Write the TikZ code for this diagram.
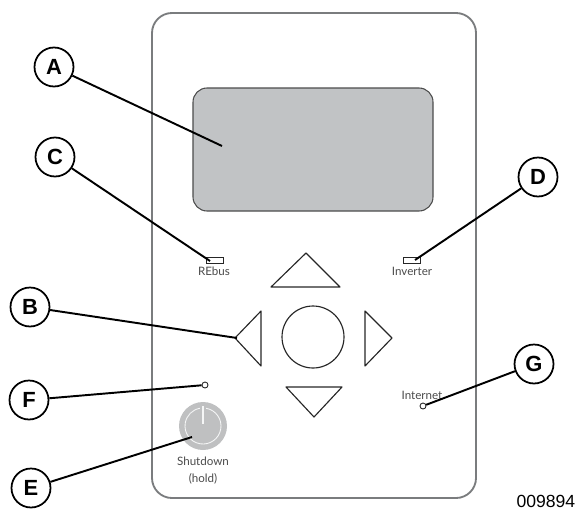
\documentclass[tikz,border=0pt]{standalone}
\usepackage{fontspec}
\setmainfont{Liberation Sans}
\newfontfamily\panelfont{Lato}
\usetikzlibrary{positioning}
\definecolor{panelgray}{HTML}{7A7C7E}
\definecolor{screengray}{HTML}{C1C3C5}
\definecolor{knobgray}{HTML}{BFC0C1}
\definecolor{panelink}{HTML}{4A4A4A}
\begin{document}
\begin{tikzpicture}[x=0.02cm, y=-0.02cm, semithick]
\tikzstyle{callout}=[circle,fill=white,draw=black,line width=1pt,minimum size=0.78cm,inner sep=0pt,font=\fontsize{12.5}{14}\selectfont\bfseries]
\tikzstyle{leader}=[draw=black,line width=1.1pt]
\tikzstyle{outline}=[draw=black!85,line width=0.65pt,line join=round]
\tikzstyle{led}=[draw=black!85,fill=white,line width=0.5pt]
\tikzstyle{paneltext}=[inner sep=0pt,text=panelink,font=\panelfont\fontsize{6.6}{7.5}\selectfont]
\useasboundingbox (0,0) rectangle (580,510);
% panel and screen
\draw[draw=panelgray,line width=1.05pt,rounded corners=0.4cm] (152,13) rectangle (476,498);
\draw[draw=black!70,fill=screengray,line width=0.6pt,rounded corners=0.28cm] (193,88) rectangle (433,211);
% keypad
\draw[outline] (306,253) -- (340,287) -- (271,287) -- cycle;
\draw[outline] (235,338) -- (261,311) -- (261,366) -- cycle;
\draw[outline] (392,338) -- (365,311) -- (365,366) -- cycle;
\draw[outline] (314,417) -- (342,387) -- (286,387) -- cycle;
\node[circle,outline,minimum size=1.24cm,inner sep=0pt] (okkey) at (313,337) {};
% lamps
\node[led,minimum width=0.34cm,minimum height=0.13cm,inner sep=0pt] (rebus) at (214.5,260.5) {};
\node[paneltext] (rebustext) at (214,271) {REbus};
\node[led,minimum width=0.34cm,minimum height=0.13cm,inner sep=0pt] (inverter) at (412,260.5) {};
\node[paneltext] (invertertext) at (412,271) {Inverter};
\node[led,circle,minimum size=0.12cm,inner sep=0pt] (power) at (205,385) {};
\node[led,circle,minimum size=0.12cm,inner sep=0pt] (internet) at (423,406) {};
\node[paneltext] (internettext) at (422,395) {Internet};
% shutdown button
\node[circle,fill=knobgray,minimum size=0.96cm,inner sep=0pt] (knob) at (203,426) {};
\draw[white!85!knobgray,line width=0.5pt] (knob.center) ++(-80:18) arc (-80:260:18);
\draw[white!85!knobgray,line width=0.8pt] (203,406) -- (203,424);
\node[paneltext] (shutdown) at (203,461) {Shutdown};
\node[paneltext] (hold) [below=0.14cm of shutdown] {(hold)};
% callouts
\node[callout] (A) at (54,67) {A};
\node[callout] (C) at (55,157) {C};
\node[callout] (D) at (538,177) {D};
\node[callout] (B) at (30,307) {B};
\node[callout] (F) at (29,400) {F};
\node[callout] (G) at (534,364) {G};
\node[callout] (E) at (31,488) {E};
\coordinate (screenend) at (222,146);
\coordinate (rebusend) at (210,261);
\coordinate (inverterend) at (415,260);
\coordinate (leftend) at (237,338);
\coordinate (knobend) at (192,437);
\path[leader]
(A) edge (screenend)
(C) edge (rebusend)
(D) edge (inverterend)
(B) edge (leftend)
(F) edge (power)
(E) edge (knobend)
(G) edge (internet)
;
\node[anchor=base west,inner sep=0pt,font=\fontsize{10}{12}\selectfont] (partno) at (516,507) {009894};
\end{tikzpicture}
\end{document}
